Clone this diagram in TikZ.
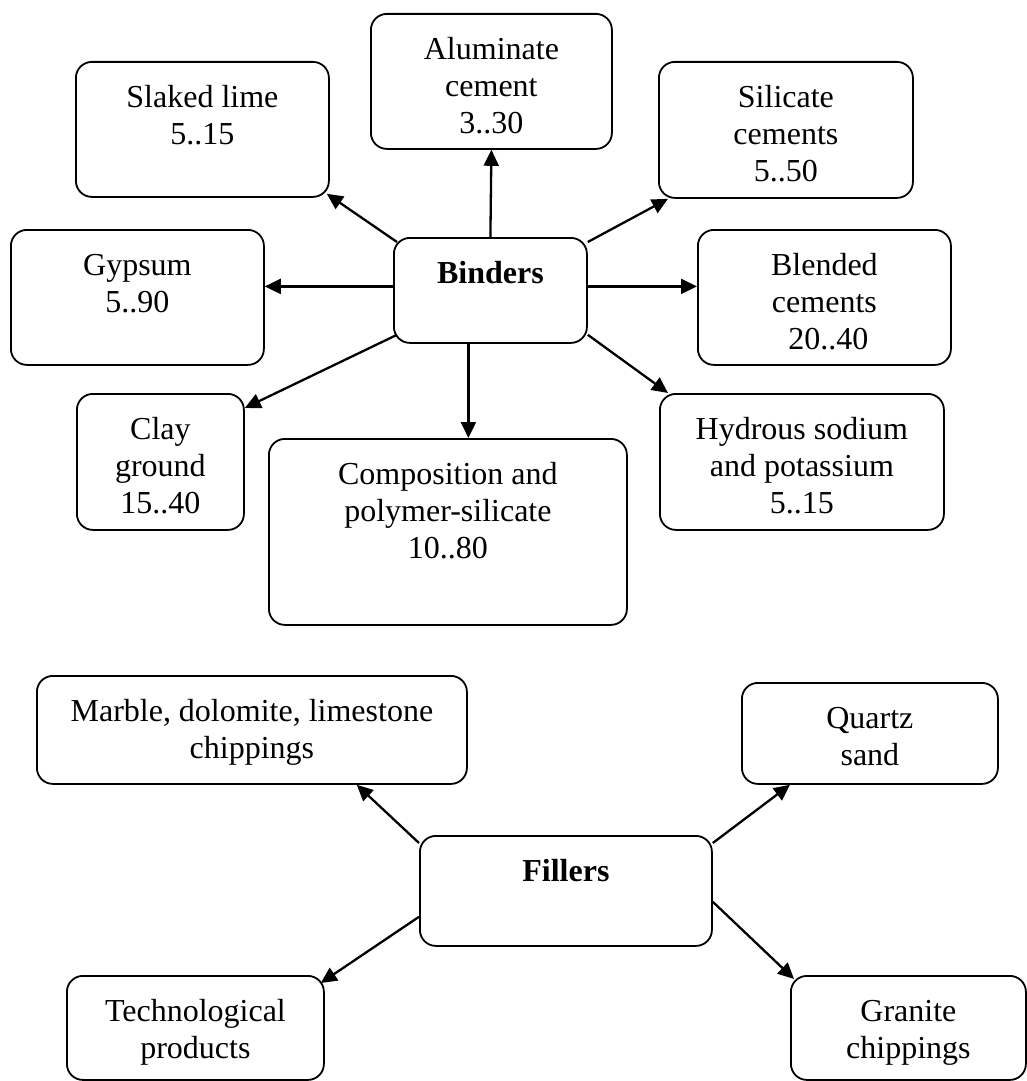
\documentclass[tikz,border=0pt]{standalone}
\usepackage{fontspec}
\setmainfont{Liberation Serif}
\usetikzlibrary{arrows.meta}
\newcommand{\boxtxt}[3]{\parbox[c][#2][t]{#1}{\centering\rule{0pt}{23pt}#3}}
\tikzset{
  itembox/.style={draw, line width=0.9pt, rounded corners=8pt, inner sep=0pt,
                  font=\fontsize{16pt}{18.5pt}\selectfont},
  arr/.style={-{Triangle[length=8pt,width=7.5pt]}, line width=1.15pt}}

\begin{document}
\begin{tikzpicture}[x=0.5pt, y=-0.5pt,
                    every node/.append style={anchor=north west}]
    \useasboundingbox (0,0) rectangle (1027,1081);
    % binders
    \node[itembox] (bnd) at (393,237) {\boxtxt{96.5pt}{52.5pt}{\textbf{Binders}}};
    \node[itembox] (alu) at (370,13) {\boxtxt{120.5pt}{67.5pt}{Aluminate\\cement\\3..30}};
    \node[itembox] (slk) at (75,61) {\boxtxt{126.5pt}{67.5pt}{Slaked lime\\5..15}};
    \node[itembox] (sil) at (658,61) {\boxtxt{127pt}{68pt}{Silicate\\cements\\5..50}};
    \node[itembox] (gyp) at (10,229) {\boxtxt{126.5pt}{67.5pt}{Gypsum\\5..90}};
    \node[itembox] (bld) at (697,229) {\boxtxt{126.5pt}{67.5pt}{Blended\\cements\\\hspace*{4pt}20..40}};
    \node[itembox] (cly) at (76,393) {\boxtxt{83.5pt}{68pt}{Clay\\ground\\15..40}};
    \node[itembox] (cmp) at (268,438) {\boxtxt{179pt}{93pt}{Composition and\\polymer-silicate\\10..80}};
    \node[itembox] (hyd) at (659,393) {\boxtxt{142pt}{68pt}{Hydrous sodium\\and potassium\\5..15}};

    \draw[arr] ([shift={(2pt,-2.5pt)}]bnd.north west) -- ([shift={(-1.5pt,2pt)}]slk.south east);
    \draw[arr] (bnd.north) -- (alu.south);
    \draw[arr] ([yshift=-2.5pt]bnd.north east) -- ([xshift=5pt]sil.south west);
    \draw[arr] ([yshift=2pt]bnd.west) -- ([yshift=2pt]bnd.west -| gyp.east);
    \draw[arr] ([yshift=2pt]bnd.east) -- ([yshift=2pt]bnd.east -| bld.west);
    \draw[arr] ([shift={(2pt,4.5pt)}]bnd.south west) -- ([yshift=-7.5pt]cly.north east);
    \draw[arr] ([xshift=-11pt]bnd.south) -- ([xshift=-11pt]bnd.south |- cmp.north);
    \draw[arr] ([yshift=4.5pt]bnd.south east) -- ([xshift=4.5pt]hyd.north west);

    % fillers
    \node[itembox] (fil) at (419,835) {\boxtxt{146pt}{55pt}{\textbf{Fillers}}};
    \node[itembox] (mrb) at (36,675) {\boxtxt{215pt}{54pt}{Marble, dolomite, limestone\\chippings}};
    \node[itembox] (qtz) at (741,682) {\boxtxt{128pt}{50.5pt}{Quartz\\sand}};
    \node[itembox] (tec) at (66,975) {\boxtxt{128.5pt}{52pt}{Technological\\products}};
    \node[itembox] (gra) at (790,975) {\boxtxt{117.5pt}{52pt}{Granite\\chippings}};

    \draw[arr] ([yshift=-4pt]fil.north west) -- ([xshift=-55.5pt]mrb.south east);
    \draw[arr] ([yshift=-4pt]fil.north east) -- ([xshift=24.5pt]qtz.south west);
    \draw[arr] ([yshift=15pt]fil.south west) -- ([shift={(-2pt,-4pt)}]tec.north east);
    \draw[arr] ([yshift=22.5pt]fil.south east) -- ([shift={(2pt,-2pt)}]gra.north west);
\end{tikzpicture}
\end{document}
